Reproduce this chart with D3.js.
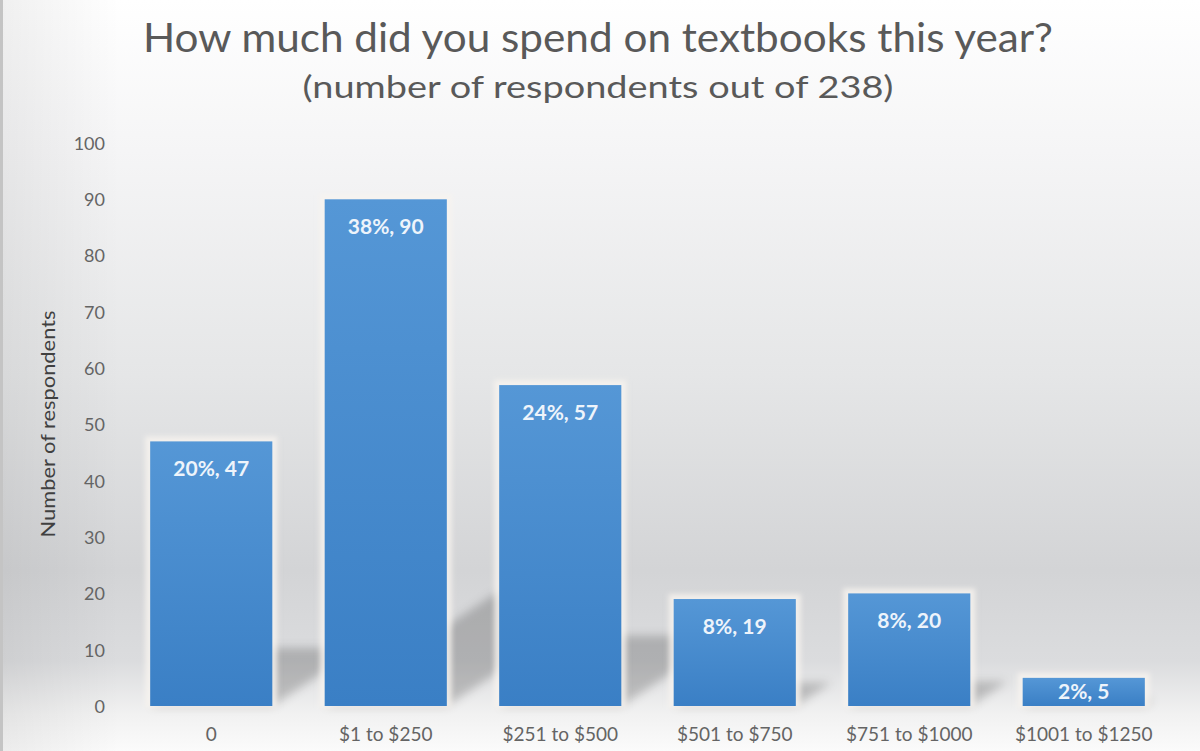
<!DOCTYPE html>
<html><head><meta charset="utf-8">
<script src="https://cdn.jsdelivr.net/npm/d3@7/dist/d3.min.js"></script>
<style>html,body{margin:0;padding:0;background:#fff;}svg{display:block;}</style>
</head><body>
<script>
const categories = ["0", "$1 to $250", "$251 to $500", "$501 to $750", "$751 to $1000", "$1001 to $1250"];
const counts = [47, 90, 57, 19, 20, 5];
const percents = ["20%", "38%", "24%", "8%", "8%", "2%"];
const yTicks = [0, 10, 20, 30, 40, 50, 60, 70, 80, 90, 100];
const titleText = "How much did you spend on textbooks this year?";
const subtitleText = "(number of respondents out of 238)";
const yAxisTitle = "Number of respondents";

const W = 1200, H = 751;
const font = "Lato, 'Open Sans', sans-serif";
const svg = d3.select("body").append("svg").attr("width", W).attr("height", H);
const defs = svg.append("defs");

const bg = defs.append("linearGradient").attr("id", "bg").attr("x1", 0).attr("y1", 0).attr("x2", 0).attr("y2", 1);
[[0, "#ffffff"], [0.2, "#f5f5f6"], [0.5, "#e5e6e7"], [0.76, "#d3d4d6"], [0.88, "#dbdcde"], [0.95, "#f1f1f1"], [1, "#fbfbfb"]]
  .forEach(([o, c]) => bg.append("stop").attr("offset", o).attr("stop-color", c));
const bgL = defs.append("linearGradient").attr("id", "bgL").attr("x1", 0).attr("y1", 0).attr("x2", 1).attr("y2", 0);
[[0, "#000", 0.06], [0.1, "#000", 0.0], [1, "#000", 0]].forEach(([o, c, a]) => bgL.append("stop").attr("offset", o).attr("stop-color", c).attr("stop-opacity", a));

const barG = defs.append("linearGradient").attr("id", "barG").attr("x1", 0).attr("y1", 0).attr("x2", 0).attr("y2", 1);
[[0, "#5597d6"], [1, "#3a7fc5"]].forEach(([o, c]) => barG.append("stop").attr("offset", o).attr("stop-color", c));

defs.append("filter").attr("id", "blur").attr("x", "-30%").attr("y", "-30%").attr("width", "160%").attr("height", "160%")
  .append("feGaussianBlur").attr("stdDeviation", 5);
defs.append("filter").attr("id", "glow").attr("x", "-20%").attr("y", "-20%").attr("width", "140%").attr("height", "140%")
  .append("feGaussianBlur").attr("stdDeviation", 2.5);

svg.append("rect").attr("width", W).attr("height", H).attr("fill", "url(#bg)");
svg.append("rect").attr("width", W).attr("height", H).attr("fill", "url(#bgL)");
svg.append("line").attr("x1", 1.5).attr("x2", 1.5).attr("y1", 0).attr("y2", H).attr("stroke", "#c4c4c4").attr("stroke-width", 3);

const x = d3.scaleBand().domain(categories).range([124, 1171]).paddingInner(0.3).paddingOuter(0.15);
const y = d3.scaleLinear().domain([0, 100]).range([706, 143]);

// Title
svg.append("text").attr("x", 598).attr("y", 52).attr("text-anchor", "middle")
  .attr("font-family", font).attr("font-size", 40).attr("fill", "#595959")
  .attr("textLength", 910).attr("lengthAdjust", "spacingAndGlyphs").text(titleText);
svg.append("text").attr("x", 598).attr("y", 98).attr("text-anchor", "middle")
  .attr("font-family", font).attr("font-size", 31).attr("fill", "#595959")
  .attr("textLength", 591).attr("lengthAdjust", "spacingAndGlyphs").text(subtitleText);

// Y axis
const yAxis = d3.axisLeft(y).tickValues(yTicks).tickSize(0).tickPadding(0);
const ya = svg.append("g").attr("transform", "translate(105,0)").call(yAxis);
ya.select(".domain").remove();
ya.selectAll("text").attr("font-family", font).attr("font-size", 18).attr("fill", "#646464").attr("dy", "0.35em");

svg.append("text").attr("transform", "translate(55,424) rotate(-90)").attr("text-anchor", "middle")
  .attr("font-family", font).attr("font-size", 19).attr("fill", "#404040")
  .attr("textLength", 227).attr("lengthAdjust", "spacingAndGlyphs").text(yAxisTitle);

// X axis labels
const xAxis = d3.axisBottom(x).tickSize(0).tickPadding(0);
const xa = svg.append("g").attr("transform", "translate(0,731)").call(xAxis);
xa.select(".domain").remove();
xa.selectAll("text").attr("font-family", font).attr("font-size", 19).attr("fill", "#646464").attr("dy", "0.55em");

const data = categories.map((c, i) => ({ c, v: counts[i], p: percents[i] }));

// Perspective shadows
const y0 = y(0);
svg.append("g").attr("filter", "url(#blur)").selectAll("path").data(data).join("path")
  .attr("d", d => {
    const hp = y0 - y(d.v);
    const T = 0.22 * hp, dx = T / 0.66;
    const x0 = x(d.c), x1 = x0 + x.bandwidth();
    return `M${x0},${y0}L${x1},${y0}L${x1 + dx},${y0 - T}L${x0 + dx},${y0 - T}Z`;
  })
  .attr("fill", "#000").attr("fill-opacity", 0.2);

// Glow
svg.append("g").attr("filter", "url(#glow)").selectAll("rect").data(data).join("rect")
  .attr("x", d => x(d.c) - 5).attr("y", d => y(d.v) - 5)
  .attr("width", x.bandwidth() + 10).attr("height", d => y0 - y(d.v) + 7)
  .attr("fill", "#f8f4ef").attr("fill-opacity", 0.8);

// Bars
svg.append("g").selectAll("rect").data(data).join("rect")
  .attr("x", d => x(d.c)).attr("y", d => y(d.v))
  .attr("width", x.bandwidth()).attr("height", d => y0 - y(d.v))
  .attr("fill", "url(#barG)");

// Labels
svg.append("g").selectAll("text").data(data).join("text")
  .attr("x", d => x(d.c) + x.bandwidth() / 2)
  .attr("y", d => Math.min(y(d.v) + 27, (y(d.v) + y0) / 2))
  .attr("dy", "0.36em").attr("text-anchor", "middle")
  .attr("font-family", font).attr("font-weight", "bold").attr("font-size", 21).attr("fill", "#eef4fb")
  .text(d => `${d.p}, ${d.v}`);
</script>
</body></html>
